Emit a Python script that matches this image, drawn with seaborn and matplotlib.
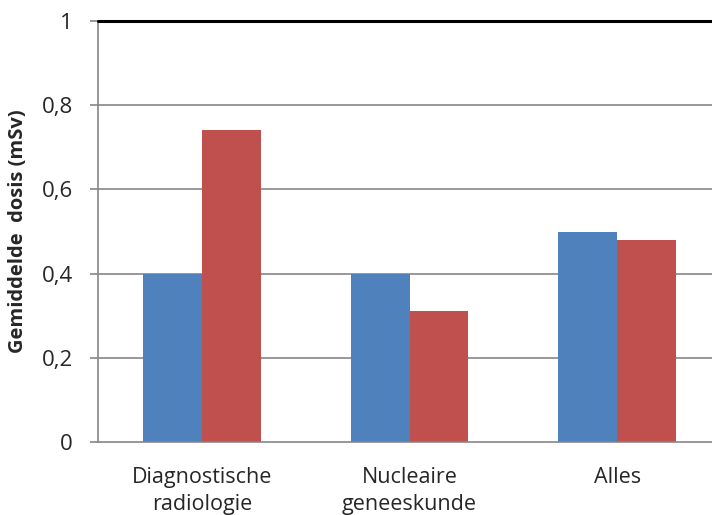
import pandas as pd
import matplotlib
matplotlib.use("Agg")
import matplotlib.pyplot as plt
import seaborn as sns
from matplotlib.ticker import FixedLocator, FuncFormatter

categories = ["Diagnostische\nradiologie", "Nucleaire\ngeneeskunde", "Alles"]
series_names = ["Serie 1", "Serie 2"]
serie1 = [0.40, 0.40, 0.50]
serie2 = [0.74, 0.31, 0.48]

df = pd.DataFrame({
    "categorie": categories * 2,
    "serie": [series_names[0]] * 3 + [series_names[1]] * 3,
    "dosis": serie1 + serie2,
})

sns.set_style("white")
plt.rcParams["font.family"] = ["Open Sans", "DejaVu Sans"]

fig = plt.figure(figsize=(7.12, 5.15), dpi=100)
ax = fig.add_axes([98 / 712, 1 - 442 / 515, 623 / 712, 421 / 515])

sns.barplot(data=df, x="categorie", y="dosis", hue="serie",
            palette=["#4F81BD", "#C0504D"], width=0.567, gap=0,
            saturation=1, legend=False, linewidth=0, ax=ax)

ax.set_xlim(-0.5, 2.5)
ax.set_ylim(0, 1)
ax.set_yticks([0, 0.2, 0.4, 0.6, 0.8, 1.0])
ax.yaxis.set_major_formatter(FuncFormatter(lambda v, p: "0" if v == 0 else ("1" if v == 1 else f"{v:.1f}".replace(".", ","))))
for y in [0.2, 0.4, 0.6, 0.8]:
    ax.axhline(y, color="#868686", lw=1.2, zorder=0)
ax.axhline(1.0, color="black", lw=2.2, zorder=3, clip_on=False)

for s in ["top", "right"]:
    ax.spines[s].set_visible(False)
for s in ["left", "bottom"]:
    ax.spines[s].set_color("#868686")
    ax.spines[s].set_linewidth(1.2)

ax.xaxis.set_minor_locator(FixedLocator([-0.5, 0.5, 1.5, 2.5]))
ax.tick_params(axis="x", which="major", length=0, pad=18, labelsize=15.5)
ax.tick_params(axis="x", which="minor", length=5.5, width=1.2, color="#868686", direction="out")
ax.tick_params(axis="y", length=6, width=1.2, color="#868686", direction="out", left=True, pad=12, labelsize=16)
for lbl in ax.get_xticklabels():
    lbl.set_linespacing(1.4)

ax.set_xlabel("")
ax.set_ylabel("Gemiddelde  dosis (mSv)", fontsize=14.5, fontweight="bold", labelpad=10)

fig.savefig("out.png", dpi=100)
